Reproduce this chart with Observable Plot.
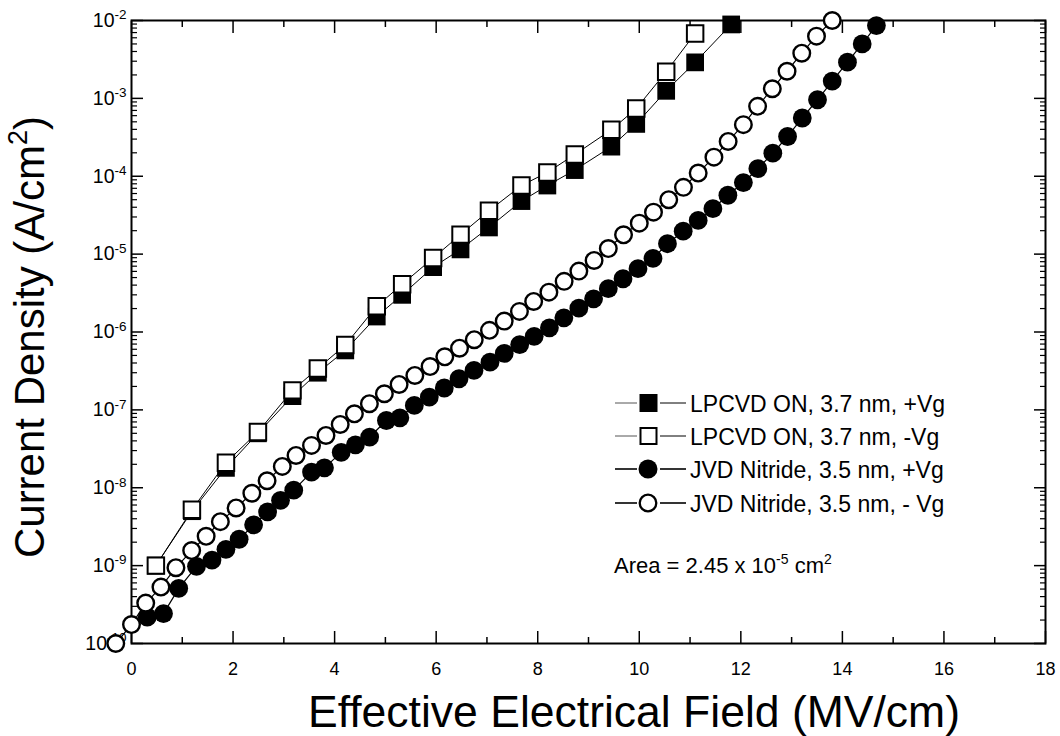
<!DOCTYPE html>
<html>
<head>
<meta charset="utf-8">
<script src="https://cdn.jsdelivr.net/npm/d3@7"></script>
<script src="https://cdn.jsdelivr.net/npm/@observablehq/plot@0.6"></script>
<style>
  html, body { margin: 0; padding: 0; background: #fff; }
  #chart { width: 1060px; height: 736px; }
  svg { font-family: "Liberation Sans", Arial, Helvetica, sans-serif; }
</style>
</head>
<body>
<div id="chart"></div>
<script>
// ---- Data ----
// LPCVD ON, 3.7 nm, +Vg (filled squares)
const lpcvdPosField = [0.48, 1.19, 1.86, 2.49, 3.17, 3.67, 4.21, 4.83, 5.33, 5.94, 6.48, 7.04, 7.68, 8.19, 8.73, 9.45, 9.94, 10.53, 11.10, 11.81];
const lpcvdPosJ     = [1.0e-9, 5.0e-9, 1.8e-8, 5.0e-8, 1.5e-7, 3.0e-7, 5.8e-7, 1.58e-6, 3.0e-6, 6.8e-6, 1.15e-5, 2.2e-5, 4.8e-5, 7.6e-5, 1.2e-4, 2.4e-4, 4.7e-4, 1.25e-3, 2.9e-3, 8.9e-3];
// LPCVD ON, 3.7 nm, -Vg (open squares)
const lpcvdNegField = [0.48, 1.19, 1.86, 2.49, 3.17, 3.67, 4.21, 4.83, 5.33, 5.94, 6.48, 7.04, 7.68, 8.19, 8.73, 9.45, 9.94, 10.53, 11.10];
const lpcvdNegJ     = [1.0e-9, 5.2e-9, 2.1e-8, 5.2e-8, 1.78e-7, 3.4e-7, 6.8e-7, 2.14e-6, 4.1e-6, 8.9e-6, 1.78e-5, 3.6e-5, 7.6e-5, 1.12e-4, 1.9e-4, 3.95e-4, 7.4e-4, 2.2e-3, 6.8e-3];
// JVD Nitride, 3.5 nm, +Vg (filled circles)
const jvdPosField = [0.31, 0.63, 0.93, 1.28, 1.585, 1.86, 2.12, 2.405, 2.68, 2.935, 3.195, 3.545, 3.80, 4.13, 4.41, 4.69, 5.02, 5.285, 5.57, 5.865, 6.16, 6.45, 6.745, 7.06, 7.34, 7.645, 7.93, 8.23, 8.515, 8.81, 9.10, 9.39, 9.68, 9.975, 10.27, 10.555, 10.865, 11.16, 11.45, 11.745, 12.05, 12.335, 12.63, 12.92, 13.21, 13.51, 13.80, 14.10, 14.39, 14.67];
const jvdPosJ     = [2.19e-10, 2.42e-10, 5.1e-10, 9.8e-10, 1.18e-9, 1.62e-9, 2.18e-9, 3.34e-9, 4.9e-9, 6.9e-9, 9.3e-9, 1.59e-8, 1.8e-8, 2.85e-8, 3.56e-8, 4.48e-8, 7.3e-8, 7.9e-8, 1.14e-7, 1.46e-7, 1.91e-7, 2.51e-7, 3.21e-7, 4.1e-7, 5.3e-7, 6.9e-7, 8.8e-7, 1.13e-6, 1.52e-6, 2.02e-6, 2.67e-6, 3.6e-6, 4.83e-6, 6.5e-6, 8.8e-6, 1.36e-5, 1.97e-5, 2.71e-5, 3.83e-5, 5.7e-5, 8.3e-5, 1.25e-4, 1.98e-4, 3.24e-4, 5.6e-4, 9.6e-4, 1.67e-3, 2.92e-3, 5.0e-3, 8.6e-3];
// JVD Nitride, 3.5 nm, -Vg (open circles)
const jvdNegField = [-0.31, 0.0, 0.28, 0.58, 0.875, 1.185, 1.47, 1.75, 2.06, 2.37, 2.67, 2.97, 3.24, 3.545, 3.83, 4.11, 4.39, 4.685, 4.98, 5.27, 5.58, 5.88, 6.17, 6.46, 6.75, 7.05, 7.34, 7.64, 7.92, 8.22, 8.52, 8.81, 9.11, 9.39, 9.69, 10.0, 10.28, 10.58, 10.87, 11.16, 11.47, 11.75, 12.05, 12.33, 12.62, 12.91, 13.20, 13.49, 13.80];
const jvdNegJ     = [1.0e-10, 1.75e-10, 3.3e-10, 5.3e-10, 9.4e-10, 1.56e-9, 2.38e-9, 3.67e-9, 5.5e-9, 8.5e-9, 1.23e-8, 1.88e-8, 2.6e-8, 3.5e-8, 4.7e-8, 6.5e-8, 8.9e-8, 1.2e-7, 1.61e-7, 2.12e-7, 2.77e-7, 3.6e-7, 4.8e-7, 6.2e-7, 7.96e-7, 1.05e-6, 1.38e-6, 1.84e-6, 2.47e-6, 3.25e-6, 4.47e-6, 6.05e-6, 8.3e-6, 1.18e-5, 1.77e-5, 2.5e-5, 3.46e-5, 5.0e-5, 7.2e-5, 1.1e-4, 1.76e-4, 2.8e-4, 4.6e-4, 7.9e-4, 1.33e-3, 2.23e-3, 3.8e-3, 6.3e-3, 1.0e-2];

const seriesNames = ["LPCVD ON, 3.7 nm, +Vg", "LPCVD ON, 3.7 nm, -Vg", "JVD Nitride, 3.5 nm, +Vg", "JVD Nitride, 3.5 nm, - Vg"];

// ---- Ticks ----
const xMajorTicks = [0, 2, 4, 6, 8, 10, 12, 14, 16, 18];
const xMinorTicks = [1, 3, 5, 7, 9, 11, 13, 15, 17];
const yExponents  = [-10, -9, -8, -7, -6, -5, -4, -3, -2];
const yMantissas  = [2, 3, 4, 5, 6, 7, 8, 9];

const xTitle = "Effective Electrical Field (MV/cm)";
const yTitle = "Current Density (A/cm";
const areaNote = ["Area = 2.45 x 10", "-5", " cm", "2"];

// ---- Build tables ----
const toRows = (xs, ys) => xs.map((x, i) => ({x, y: ys[i]}));
const lpcvdPos = toRows(lpcvdPosField, lpcvdPosJ);
const lpcvdNeg = toRows(lpcvdNegField, lpcvdNegJ);
const jvdPos = toRows(jvdPosField, jvdPosJ);
const jvdNeg = toRows(jvdNegField, jvdNegJ);

const yMajorTicks = yExponents.map(e => Math.pow(10, e));
const yMinorTicks = yExponents.slice(0, -1).flatMap(e => yMantissas.map(m => m * Math.pow(10, e)));

const blank = () => "";

const plot = Plot.plot({
  width: 1060,
  height: 736,
  marginLeft: 131,
  marginRight: 15,
  marginTop: 20,
  marginBottom: 93,
  style: {background: "#fff", color: "#000", fontFamily: "Liberation Sans, Arial, Helvetica, sans-serif"},
  x: {domain: [0, 18]},
  y: {type: "log", domain: [1e-10, 1e-2]},
  marks: [
    Plot.axisX({ticks: xMajorTicks, anchor: "bottom", tickSize: -12, tickPadding: 31, fontSize: 18, label: null, strokeWidth: 1.5}),
    Plot.axisX({ticks: xMinorTicks, anchor: "bottom", tickSize: -6, tickFormat: blank, label: null, strokeWidth: 1.5}),
    Plot.axisX({ticks: xMajorTicks, anchor: "top", tickSize: -12, tickFormat: blank, label: null, strokeWidth: 1.5}),
    Plot.axisX({ticks: xMinorTicks, anchor: "top", tickSize: -6, tickFormat: blank, label: null, strokeWidth: 1.5}),
    Plot.axisY({ticks: yMajorTicks, anchor: "left", tickSize: -12, tickPadding: 17, fontSize: 19.5, label: null, strokeWidth: 1.5,
      tickFormat: d => String(Math.round(Math.log10(d)))}),
    Plot.axisY({ticks: yMinorTicks, anchor: "left", tickSize: -6, tickFormat: blank, label: null, strokeWidth: 1.2}),
    Plot.axisY({ticks: yMajorTicks, anchor: "right", tickSize: -12, tickFormat: blank, label: null, strokeWidth: 1.5}),
    Plot.axisY({ticks: yMinorTicks, anchor: "right", tickSize: -6, tickFormat: blank, label: null, strokeWidth: 1.2}),
    Plot.frame({stroke: "#000", strokeWidth: 2}),
    Plot.line(lpcvdPos, {x: "x", y: "y", stroke: "#000", strokeWidth: 1}),
    Plot.line(lpcvdNeg, {x: "x", y: "y", stroke: "#000", strokeWidth: 1}),
    Plot.line(jvdPos, {x: "x", y: "y", stroke: "#000", strokeWidth: 1.2}),
    Plot.line(jvdNeg, {x: "x", y: "y", stroke: "#000", strokeWidth: 1.2}),
    Plot.dot(lpcvdPos, {x: "x", y: "y", symbol: "square", r: 10, fill: "#000", stroke: "none"}),
    Plot.dot(lpcvdNeg, {x: "x", y: "y", symbol: "square", r: 9.3, fill: "#fff", stroke: "#000", strokeWidth: 2}),
    Plot.dot(jvdPos, {x: "x", y: "y", r: 9.4, fill: "#000", stroke: "none"}),
    Plot.dot(jvdNeg, {x: "x", y: "y", r: 8.3, fill: "#fff", stroke: "#000", strokeWidth: 2.4})
  ]
});

document.getElementById("chart").appendChild(plot);

// ---- Superscript y tick labels (10^n) ----
const svg = d3.select(plot);
svg.selectAll('g[aria-label="y-axis tick label"] text').each(function() {
  const t = d3.select(this);
  const e = t.text();
  if (!e) return;
  t.text("");
  t.append("tspan").text("10");
  t.append("tspan").attr("font-size", 13.5).attr("dy", "-0.55em").text(e);
});

// ---- Axis titles ----
svg.append("text")
  .attr("x", 634).attr("y", 727)
  .attr("text-anchor", "middle")
  .attr("font-size", 44.5)
  .attr("fill", "#000")
  .text(xTitle);

const yt = svg.append("text")
  .attr("transform", "translate(44,337) rotate(-90)")
  .attr("text-anchor", "middle")
  .attr("font-size", 42)
  .attr("fill", "#000");
yt.append("tspan").text(yTitle);
yt.append("tspan").attr("font-size", 27).attr("dy", -17).text("2");
yt.append("tspan").attr("dy", 17).text(")");

// ---- Legend ----
const legendRows = [403, 436, 469, 503];
const lg = svg.append("g").attr("aria-label", "legend").attr("text-anchor", "start");
seriesNames.forEach((name, i) => {
  const cy = legendRows[i];
  const isSquare = i < 2;
  const lineColor = isSquare ? "#555" : "#000";
  const lw = isSquare ? 1 : 1.6;
  lg.append("line").attr("x1", 615).attr("x2", 637).attr("y1", cy).attr("y2", cy).attr("stroke", lineColor).attr("stroke-width", lw);
  lg.append("line").attr("x1", 660).attr("x2", 686).attr("y1", cy).attr("y2", cy).attr("stroke", "#000").attr("stroke-width", lw);
  if (i === 0) lg.append("rect").attr("x", 639.5).attr("y", cy - 9).attr("width", 18).attr("height", 18).attr("fill", "#000");
  if (i === 1) lg.append("rect").attr("x", 640.5).attr("y", cy - 8).attr("width", 16).attr("height", 16).attr("fill", "#fff").attr("stroke", "#000").attr("stroke-width", 2);
  if (i === 2) lg.append("circle").attr("cx", 648).attr("cy", cy).attr("r", 9.5).attr("fill", "#000");
  if (i === 3) lg.append("circle").attr("cx", 648).attr("cy", cy).attr("r", 8.3).attr("fill", "#fff").attr("stroke", "#000").attr("stroke-width", 2.3);
  lg.append("text").attr("x", 690).attr("y", cy + 9).attr("font-size", 23).attr("fill", "#000").attr("text-anchor", "start").text(name);
});

const an = svg.append("text").attr("x", 614).attr("y", 573).attr("font-size", 22).attr("fill", "#000").attr("text-anchor", "start");
an.append("tspan").text(areaNote[0]);
an.append("tspan").attr("font-size", 14).attr("dy", -9).text(areaNote[1]);
an.append("tspan").attr("dy", 9).text(areaNote[2]);
an.append("tspan").attr("font-size", 14).attr("dy", -9).text(areaNote[3]);
</script>
</body>
</html>
